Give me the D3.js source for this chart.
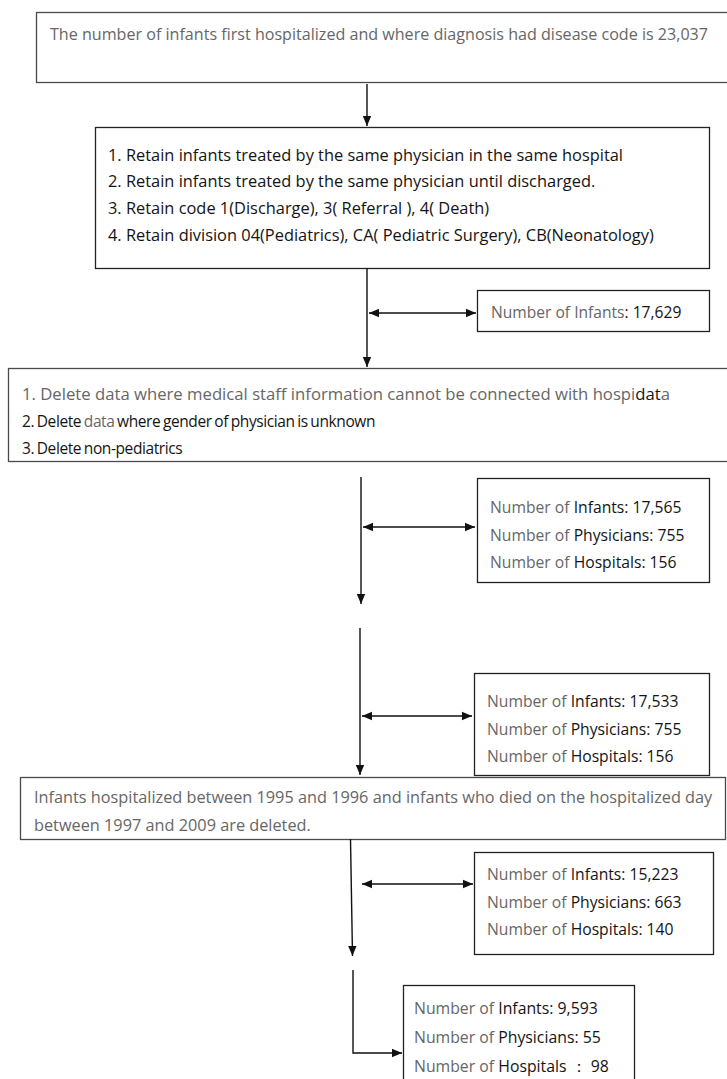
<!DOCTYPE html>
<html>
<head>
<meta charset="utf-8">
<script src="https://cdn.jsdelivr.net/npm/d3@7"></script>
<style>
  html, body { margin: 0; padding: 0; background: #fff; }
  svg { display: block; }
  text { font-family: "Open Sans", "Noto Sans", sans-serif; }
</style>
</head>
<body>
<div id="flow"></div>
<script>
// text of each step, as segments of [text, tone]; "g" = grey, "k" = black
var startLines = [
    [["The number of infants first hospitalized and where diagnosis had disease code is 23,037", "g"]]
];
var retainLines = [
    [["1. Retain infants treated by the same physician in the same hospital", "k"]],
    [["2. Retain infants treated by the same physician until discharged.", "k"]],
    [["3. Retain code 1(Discharge), 3( Referral ), 4( Death)", "k"]],
    [["4. Retain division 04(Pediatrics), CA(  Pediatric Surgery), CB(Neonatology)", "k"]]
];
var deleteLines = [
    [["1. Delete data where medical staff information cannot be connected with hospi", "g"], ["dat", "k"], ["a", "g"]],
    [["2. Delete ", "k"], ["data ", "g"], ["where gender of physician is unknown", "k"]],
    [["3. Delete non-pediatrics", "k"]]
];
var excludeLines = [
    [["Infants hospitalized between 1995 and 1996 and infants who died on the hospitalized day", "g"]],
    [["between 1997 and 2009 are deleted.", "g"]]
];

// counts after each step
var infantsAfterRetain = 17629;
var countLabels = ["Infants", "Physicians", "Hospitals"];
var countSeparators = [": ", ": ", ": "];
var lastSeparators = [": ", ": ", " \uFF1A "];
var stepInfants = [17565, 17533, 15223, 9593];
var stepPhysicians = [755, 755, 663, 55];
var stepHospitals = [156, 156, 140, 98];

var fmt = d3.format(",");
var grey = "#666666", black = "#141414";

function countLines(i, seps) {
    var vals = [stepInfants[i], stepPhysicians[i], stepHospitals[i]];
    return countLabels.map(function(lab, j) {
        return [["Number of ", "g"], [lab + seps[j] + fmt(vals[j]), "k"]];
    });
}

var width = 727, height = 1079;
var svg = d3.select("#flow").append("svg")
            .attr("width", width)
            .attr("height", height);

var defs = svg.append("defs");
defs.append("marker")
    .attr("id", "head")
    .attr("viewBox", "0 0 10 10")
    .attr("refX", 10).attr("refY", 5)
    .attr("markerWidth", 10).attr("markerHeight", 10)
    .attr("markerUnits", "userSpaceOnUse")
    .attr("orient", "auto-start-reverse")
    .append("path")
    .attr("d", "M0,0.8 L10,5 L0,9.2 Z")
    .attr("fill", "#111");

// boxes: position, size, first line y, line gap, font size
var boxes = [
    {x: 36,  y: 12,  w: 720, h: 70,  y0: 34,  gap: 27,   size: 16.1, stroke: "#4a4a4a", lines: startLines, tx: 50},
    {x: 95,  y: 127, w: 614, h: 141, y0: 155, gap: 26.7, size: 16.4, stroke: "#222", lines: retainLines, tx: 108},
    {x: 477, y: 290, w: 232, h: 41,  y0: 313, gap: 27,   size: 15.6, stroke: "#222",
        lines: [[["Number of Infants", "g"], [": " + fmt(infantsAfterRetain), "k"]]], tx: 491},
    {x: 8,   y: 368, w: 740, h: 93,  y0: 394, gap: 27.5, size: 16.7, stroke: "#4a4a4a", lines: deleteLines, tx: 22, tight: [1, 2]},
    {x: 477, y: 478, w: 232, h: 104, y0: 508, gap: 27.5, size: 15.7, stroke: "#222", lines: countLines(0, countSeparators), tx: 490},
    {x: 474, y: 673, w: 235, h: 102, y0: 702, gap: 27.5, size: 15.7, stroke: "#222", lines: countLines(1, countSeparators), tx: 487},
    {x: 20,  y: 777, w: 705, h: 62,  y0: 797, gap: 28,   size: 16.3, stroke: "#4a4a4a", lines: excludeLines, tx: 34},
    {x: 474, y: 852, w: 239, h: 102, y0: 875, gap: 27.5, size: 15.7, stroke: "#222", lines: countLines(2, countSeparators), tx: 487},
    {x: 403, y: 985, w: 231, h: 100, y0: 1008, gap: 29,  size: 15.8, stroke: "#222", lines: countLines(3, lastSeparators), tx: 414}
];

var boxGroups = svg.selectAll("g.box")
    .data(boxes)
    .enter()
    .append("g")
    .attr("class", "box");

boxGroups.append("rect")
    .attr("x", d => d.x + 0.5)
    .attr("y", d => d.y + 0.5)
    .attr("width", d => d.w)
    .attr("height", d => d.h)
    .attr("fill", "#fff")
    .attr("stroke", d => d.stroke)
    .attr("stroke-width", 1.3);

boxGroups.each(function(b) {
    var yScale = d3.scaleLinear().domain([0, 1]).range([b.y0, b.y0 + b.gap]);
    var tight = b.tight || [];
    var t = d3.select(this).selectAll("text")
        .data(b.lines)
        .enter()
        .append("text")
        .attr("x", b.tx)
        .attr("y", (d, i) => yScale(i))
        .attr("dy", "0.35em")
        .attr("font-size", (d, i) => tight.indexOf(i) >= 0 ? "15.5px" : b.size + "px")
        .attr("letter-spacing", (d, i) => tight.indexOf(i) >= 0 ? "-0.4px" : "0px")
        .attr("word-spacing", (d, i) => tight.indexOf(i) >= 0 ? "-1px" : "0px");
    t.selectAll("tspan")
        .data(d => d)
        .enter()
        .append("tspan")
        .attr("fill", s => s[1] === "g" ? grey : black)
        .text(s => s[0]);
});

// connectors
var links = [
    [[367, 84], [367, 126]],
    [[367, 268], [367, 367]],
    [[361, 477], [361, 604]],
    [[360, 628], [360, 775]],
    [[350.5, 839], [352.5, 956]]
];
var sideLinks = [
    [[369, 313], [476, 313]],
    [[363, 527], [475, 527]],
    [[362, 716], [472, 716]],
    [[362, 884], [473, 884]]
];
var line = d3.line();

svg.selectAll("path.down")
    .data(links)
    .enter()
    .append("path")
    .attr("class", "down")
    .attr("d", d => line(d))
    .attr("fill", "none")
    .attr("stroke", "#111")
    .attr("stroke-width", 1.4)
    .attr("marker-end", "url(#head)");

svg.selectAll("path.side")
    .data(sideLinks)
    .enter()
    .append("path")
    .attr("class", "side")
    .attr("d", d => line(d))
    .attr("fill", "none")
    .attr("stroke", "#111")
    .attr("stroke-width", 1.4)
    .attr("marker-start", "url(#head)")
    .attr("marker-end", "url(#head)");

// elbow into the final box
svg.append("path")
   .attr("d", line([[353, 970], [353, 1053], [402, 1053]]))
   .attr("fill", "none")
   .attr("stroke", "#111")
   .attr("stroke-width", 1.4)
   .attr("marker-end", "url(#head)");
</script>
</body>
</html>
